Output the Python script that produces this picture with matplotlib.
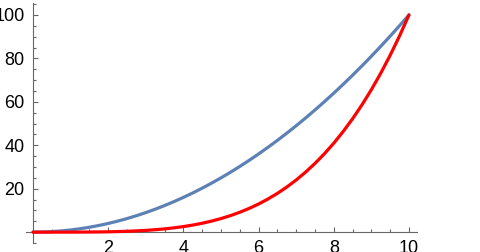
import matplotlib
matplotlib.use("Agg")
import matplotlib.pyplot as plt
from matplotlib.ticker import MultipleLocator, FixedLocator

plt.rcParams['font.family'] = ['Liberation Sans', 'DejaVu Sans']

# values, every 0.25 on x
x = [0, 0.25, 0.5, 0.75, 1, 1.25, 1.5, 1.75, 2, 2.25, 2.5, 2.75, 3, 3.25, 3.5, 3.75,
     4, 4.25, 4.5, 4.75, 5, 5.25, 5.5, 5.75, 6, 6.25, 6.5, 6.75, 7, 7.25, 7.5, 7.75,
     8, 8.25, 8.5, 8.75, 9, 9.25, 9.5, 9.75, 10]
blue = [0, 0.06, 0.25, 0.56, 1, 1.56, 2.25, 3.06, 4, 5.06, 6.25, 7.56, 9, 10.56,
        12.25, 14.06, 16, 18.06, 20.25, 22.56, 25, 27.56, 30.25, 33.06, 36, 39.06,
        42.25, 45.56, 49, 52.56, 56.25, 60.06, 64, 68.06, 72.25, 76.56, 81, 85.56,
        90.25, 95.06, 100]
red = [0, 0, 0.0006, 0.003, 0.01, 0.024, 0.05, 0.09, 0.16, 0.26, 0.39, 0.57, 0.81,
       1.12, 1.5, 1.98, 2.56, 3.26, 4.1, 5.09, 6.25, 7.6, 9.15, 10.93, 12.96, 15.26,
       17.85, 20.76, 24.01, 27.63, 31.64, 36.08, 40.96, 46.33, 52.2, 58.62, 65.61,
       73.21, 81.45, 90.37, 100]

xticks = [2, 4, 6, 8, 10]
yticks = [20, 40, 60, 80, 100]

fig = plt.figure(figsize=(4.8, 2.52), dpi=100)
ax = fig.add_axes([25.5 / 480, 9 / 252, 391 / 480, 240 / 252])

ax.plot(x, blue, color="#5E81B5", lw=2.3, solid_capstyle="round", clip_on=False, zorder=3)
ax.plot(x, red, color="#FF0000", lw=2.3, solid_capstyle="round", clip_on=False, zorder=4)

ax.set_xlim(-0.2, 10.2)
ax.set_ylim(-5, 105.5)

for s in ["top", "right"]:
    ax.spines[s].set_visible(False)
ax.spines["left"].set_position(("data", 0))
ax.spines["bottom"].set_position(("data", 0))
for s in ["left", "bottom"]:
    ax.spines[s].set_color("#666666")
    ax.spines[s].set_linewidth(0.8)

ax.xaxis.set_major_locator(FixedLocator(xticks))
ax.yaxis.set_major_locator(FixedLocator(yticks))
ax.xaxis.set_minor_locator(MultipleLocator(0.5))
ax.yaxis.set_minor_locator(MultipleLocator(5))
ax.tick_params(which="both", direction="in", color="#666666", width=0.8)
ax.tick_params(which="major", length=3.3, labelsize=13, pad=6)
ax.tick_params(which="minor", length=2)
ax.set_facecolor("white")

fig.savefig("out.png", dpi=100, facecolor="white")
